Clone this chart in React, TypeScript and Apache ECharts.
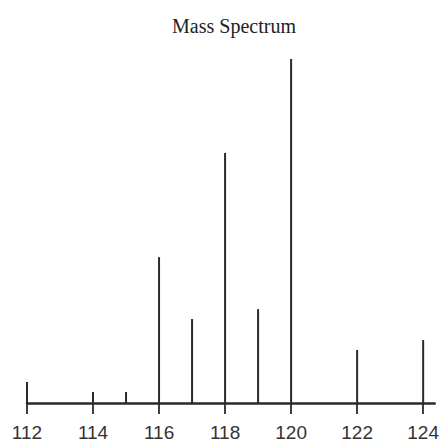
import React, { useEffect, useRef } from "react";
import * as echarts from "echarts";

const masses = [112, 114, 115, 116, 117, 118, 119, 120, 122, 124];
const intensities = [6.1, 3.2, 3.2, 42.4, 24.4, 72.7, 27.3, 100, 15.4, 18.3];
const tickValues = [112, 114, 116, 118, 120, 122, 124];
const titleText = "Mass Spectrum";

export default function App() {
  const ref = useRef<HTMLDivElement>(null);
  useEffect(() => {
    if (!ref.current) return;
    const chart = echarts.init(ref.current, null, { renderer: "svg" });
    chart.setOption({
      animation: false,
      backgroundColor: "#ffffff",
      title: {
        text: titleText,
        left: 229,
        top: 11,
        textAlign: "center",
        textStyle: {
          fontFamily: "Liberation Serif",
          fontWeight: "normal",
          fontSize: 20,
          color: "#222",
        },
      },
      grid: { left: 27, right: 7, top: 59, bottom: 39, containLabel: false },
      xAxis: {
        type: "value",
        min: 112,
        max: 124.35,
        splitLine: { show: false },
        axisLine: { show: true, lineStyle: { color: "#2a2a2a", width: 2.5 } },
        axisTick: {
          show: true,
          customValues: tickValues,
          length: 11,
          lineStyle: { color: "#2a2a2a", width: 1.8 },
        },
        axisLabel: {
          customValues: tickValues,
          margin: 20,
          fontFamily: "Liberation Sans",
          fontWeight: "normal",
          fontSize: 19,
          color: "#333",
        },
      },
      yAxis: {
        type: "value",
        min: 0,
        max: 100,
        show: false,
      },
      series: [
        {
          type: "bar",
          data: masses.map((m, i) => [m, intensities[i]]),
          barWidth: 2,
          itemStyle: { color: "#2a2a2a" },
          silent: true,
        },
      ],
    });
    return () => chart.dispose();
  }, []);
  return (
    <div
      ref={ref}
      style={{ position: "fixed", left: 0, top: 0, width: 442, height: 442 }}
    />
  );
}
